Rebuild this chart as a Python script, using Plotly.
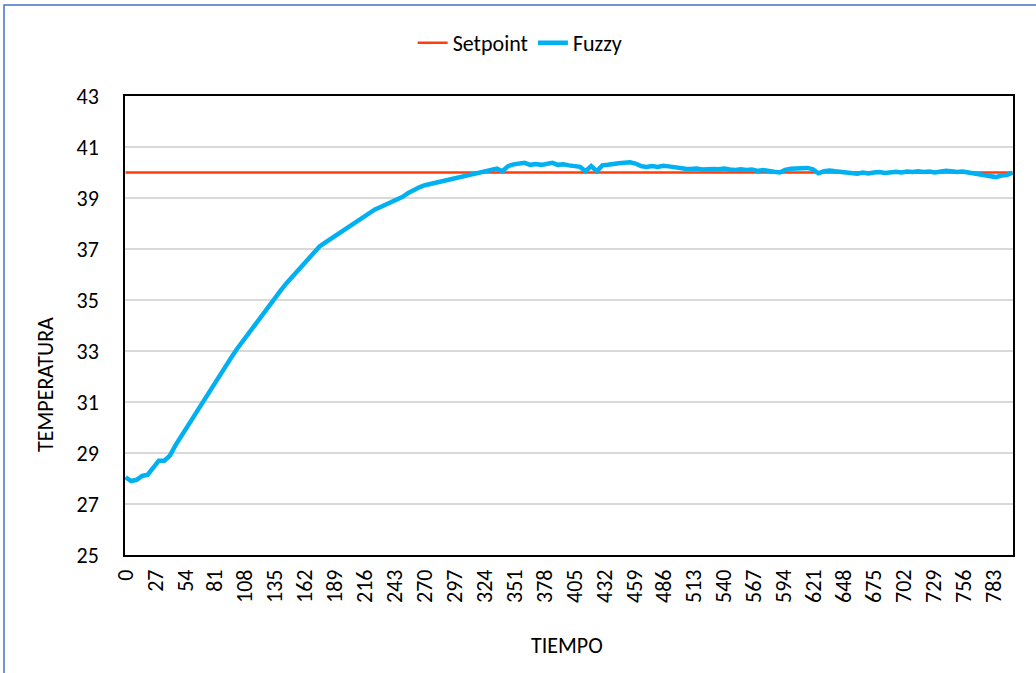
import plotly.graph_objects as go

# ---- data ----
tick_labels = [str(v) for v in range(0, 784, 27)]
tick_positions = list(range(0, 784, 27))

setpoint_x = [0, 800]
setpoint_y = [40, 40]

fuzzy_x = list(range(0, 801, 5))
fuzzy_y = [
    28.05, 27.90, 27.95, 28.10, 28.15, 28.40, 28.70, 28.70, 28.90, 29.30,
    29.65, 29.95, 30.30, 30.65, 31.00, 31.35, 31.70, 32.05, 32.40, 32.72,
    33.05, 33.35, 33.65, 33.95, 34.25, 34.55, 34.82, 35.10, 35.38, 35.65,
    35.90, 36.15, 36.40, 36.60, 36.90, 37.10, 37.25, 37.40, 37.55, 37.70,
    37.85, 38.00, 38.15, 38.30, 38.45, 38.55, 38.65, 38.75, 38.88, 38.97,
    39.05, 39.20, 39.33, 39.42, 39.50, 39.55, 39.60, 39.65, 39.72, 39.75,
    39.82, 39.88, 39.90, 39.95, 40.00, 40.05, 40.10, 40.15, 40.05, 40.25,
    40.32, 40.35, 40.38, 40.30, 40.33, 40.30, 40.35, 40.38, 40.30, 40.32,
    40.28, 40.25, 40.22, 40.05, 40.25, 40.05, 40.28, 40.30, 40.35, 40.36,
    40.38, 40.40, 40.35, 40.25, 40.22, 40.25, 40.22, 40.26, 40.24, 40.20,
    40.18, 40.15, 40.14, 40.16, 40.12, 40.15, 40.14, 40.13, 40.16, 40.12,
    40.10, 40.13, 40.10, 40.12, 40.06, 40.10, 40.05, 40.03, 40.00, 40.10,
    40.15, 40.15, 40.17, 40.18, 40.12, 39.97, 40.05, 40.08, 40.05, 40.02,
    39.98, 39.97, 39.95, 40.00, 39.96, 40.00, 40.02, 39.98, 40.02, 40.03,
    40.00, 40.04, 40.02, 40.05, 40.02, 40.04, 40.00, 40.05, 40.07, 40.05,
    40.02, 40.04, 40.00, 39.97, 39.92, 39.90, 39.85, 39.82, 39.88, 39.90,
    40.00,
]

y_ticks = [25, 27, 29, 31, 33, 35, 37, 39, 41, 43]

FONT = "Calibri, Carlito, Lato, sans-serif"
FS = 22

fig = go.Figure()
fig.add_trace(go.Scatter(x=setpoint_x, y=setpoint_y, mode="lines", name="Setpoint",
                         line=dict(color="#FF3D0D", width=2.5)))
fig.add_trace(go.Scatter(x=fuzzy_x, y=fuzzy_y, mode="lines", name="Fuzzy",
                         line=dict(color="#00B0F0", width=4.5)))

L, R, T, B = 125, 23, 96, 118
W, H = 1036, 673
pw, ph = W - L - R, H - T - B

def px_x(p):
    return (p - L) / pw

def px_y(p):
    return (H - B - p) / ph

fig.update_layout(
    width=W, height=H,
    margin=dict(l=L, r=R, t=T, b=B),
    paper_bgcolor="white", plot_bgcolor="white",
    font=dict(family=FONT, size=FS, color="#000000"),
    showlegend=True,
    legend=dict(orientation="h", x=0.445, xanchor="center", y=px_y(43), yanchor="middle",
                font=dict(size=FS), itemwidth=30, tracegroupgap=0),
    xaxis=dict(range=[-0.5, 800.5], tickmode="array", tickvals=tick_positions,
               ticktext=tick_labels, tickangle=-90, showgrid=False, zeroline=False,
               showline=True, linecolor="#000000", linewidth=1.5, mirror=True,
               ticks="", tickfont=dict(size=FS), ticklabelstandoff=4),
    yaxis=dict(range=[25, 43], tickvals=y_ticks, showgrid=True, gridcolor="#D9D9D9",
               gridwidth=1.5, zeroline=False, showline=True, linecolor="#000000",
               linewidth=1.5, mirror=True, ticks="", tickfont=dict(size=FS),
               ticklabelstandoff=20),
    annotations=[
        dict(text="TEMPERATURA", xref="paper", yref="paper", x=px_x(45), y=px_y(385),
             textangle=-90, showarrow=False, font=dict(size=FS), xanchor="center", yanchor="middle"),
        dict(text="TIEMPO", xref="paper", yref="paper", x=px_x(567), y=px_y(645),
             showarrow=False, font=dict(size=FS), xanchor="center", yanchor="middle"),
    ],
    shapes=[
        dict(type="rect", xref="paper", yref="paper", x0=px_x(4), y0=px_y(690),
             x1=px_x(1050), y1=px_y(5), line=dict(color="#4472C4", width=1.5),
             fillcolor="rgba(0,0,0,0)", layer="below"),
    ],
)

fig.write_html("out.html", config={"displayModeBar": False},
               post_script="document.body.style.margin='0px';")
